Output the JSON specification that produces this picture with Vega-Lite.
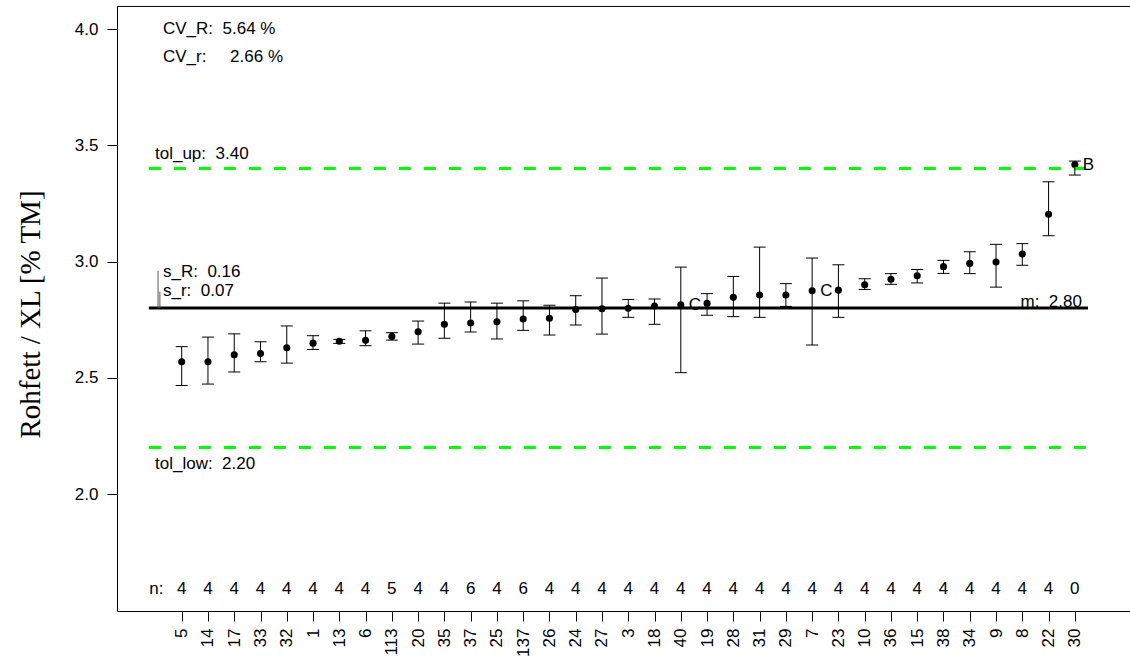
{
  "$schema": "https://vega.github.io/schema/vega-lite/v6.json",
  "width": 1013,
  "height": 605,
  "autosize": {"type": "none"},
  "padding": {"left": 117, "top": 6, "right": 0, "bottom": 46},
  "background": "white",
  "config": {"view": {"stroke": null}, "font": "Liberation Sans"},
  "resolve": {"axis": {"x": "independent", "y": "independent"}},
  "datasets": {
    "labs": [
      {"idx": 1, "lab": "5", "n": 4, "mean": 2.569, "lo": 2.467, "hi": 2.634, "flag": ""},
      {"idx": 2, "lab": "14", "n": 4, "mean": 2.569, "lo": 2.473, "hi": 2.675, "flag": ""},
      {"idx": 3, "lab": "17", "n": 4, "mean": 2.599, "lo": 2.525, "hi": 2.689, "flag": ""},
      {"idx": 4, "lab": "33", "n": 4, "mean": 2.604, "lo": 2.569, "hi": 2.655, "flag": ""},
      {"idx": 5, "lab": "32", "n": 4, "mean": 2.629, "lo": 2.563, "hi": 2.723, "flag": ""},
      {"idx": 6, "lab": "1", "n": 4, "mean": 2.649, "lo": 2.622, "hi": 2.681, "flag": ""},
      {"idx": 7, "lab": "13", "n": 4, "mean": 2.657, "lo": 2.648, "hi": 2.665, "flag": ""},
      {"idx": 8, "lab": "6", "n": 4, "mean": 2.661, "lo": 2.638, "hi": 2.702, "flag": ""},
      {"idx": 9, "lab": "113", "n": 5, "mean": 2.678, "lo": 2.662, "hi": 2.694, "flag": ""},
      {"idx": 10, "lab": "20", "n": 4, "mean": 2.698, "lo": 2.645, "hi": 2.744, "flag": ""},
      {"idx": 11, "lab": "35", "n": 4, "mean": 2.730, "lo": 2.670, "hi": 2.821, "flag": ""},
      {"idx": 12, "lab": "37", "n": 6, "mean": 2.736, "lo": 2.697, "hi": 2.826, "flag": ""},
      {"idx": 13, "lab": "25", "n": 4, "mean": 2.741, "lo": 2.667, "hi": 2.821, "flag": ""},
      {"idx": 14, "lab": "137", "n": 6, "mean": 2.753, "lo": 2.704, "hi": 2.831, "flag": ""},
      {"idx": 15, "lab": "26", "n": 4, "mean": 2.756, "lo": 2.684, "hi": 2.812, "flag": ""},
      {"idx": 16, "lab": "24", "n": 4, "mean": 2.794, "lo": 2.727, "hi": 2.853, "flag": ""},
      {"idx": 17, "lab": "27", "n": 4, "mean": 2.797, "lo": 2.688, "hi": 2.929, "flag": ""},
      {"idx": 18, "lab": "3", "n": 4, "mean": 2.799, "lo": 2.760, "hi": 2.837, "flag": ""},
      {"idx": 19, "lab": "18", "n": 4, "mean": 2.809, "lo": 2.730, "hi": 2.839, "flag": ""},
      {"idx": 20, "lab": "40", "n": 4, "mean": 2.814, "lo": 2.522, "hi": 2.976, "flag": "C"},
      {"idx": 21, "lab": "19", "n": 4, "mean": 2.820, "lo": 2.769, "hi": 2.862, "flag": ""},
      {"idx": 22, "lab": "28", "n": 4, "mean": 2.846, "lo": 2.763, "hi": 2.936, "flag": ""},
      {"idx": 23, "lab": "31", "n": 4, "mean": 2.856, "lo": 2.760, "hi": 3.062, "flag": ""},
      {"idx": 24, "lab": "29", "n": 4, "mean": 2.856, "lo": 2.807, "hi": 2.905, "flag": ""},
      {"idx": 25, "lab": "7", "n": 4, "mean": 2.874, "lo": 2.641, "hi": 3.015, "flag": "C"},
      {"idx": 26, "lab": "23", "n": 4, "mean": 2.877, "lo": 2.760, "hi": 2.986, "flag": ""},
      {"idx": 27, "lab": "10", "n": 4, "mean": 2.900, "lo": 2.880, "hi": 2.926, "flag": ""},
      {"idx": 28, "lab": "36", "n": 4, "mean": 2.924, "lo": 2.902, "hi": 2.948, "flag": ""},
      {"idx": 29, "lab": "15", "n": 4, "mean": 2.939, "lo": 2.908, "hi": 2.966, "flag": ""},
      {"idx": 30, "lab": "38", "n": 4, "mean": 2.978, "lo": 2.949, "hi": 3.005, "flag": ""},
      {"idx": 31, "lab": "34", "n": 4, "mean": 2.992, "lo": 2.948, "hi": 3.042, "flag": ""},
      {"idx": 32, "lab": "9", "n": 4, "mean": 2.998, "lo": 2.890, "hi": 3.074, "flag": ""},
      {"idx": 33, "lab": "8", "n": 4, "mean": 3.032, "lo": 2.984, "hi": 3.077, "flag": ""},
      {"idx": 34, "lab": "22", "n": 4, "mean": 3.203, "lo": 3.111, "hi": 3.343, "flag": ""},
      {"idx": 35, "lab": "30", "n": 0, "mean": 3.417, "lo": 3.372, "hi": 3.432, "flag": "B"}
    ],
    "tol": [
      {"name": "tol_up", "v": 3.40},
      {"name": "tol_low", "v": 2.20}
    ],
    "one": [{}]
  },
  "layer": [
    {
      "data": {"name": "labs"},
      "mark": {"type": "point", "filled": true, "color": "black", "size": 50, "opacity": 1},
      "encoding": {
        "x": {
          "field": "idx", "type": "quantitative",
          "scale": {"domain": [-1.463, 37.1], "nice": false, "zero": false},
          "axis": {
            "values": [1,2,3,4,5,6,7,8,9,10,11,12,13,14,15,16,17,18,19,20,21,22,23,24,25,26,27,28,29,30,31,32,33,34,35],
            "labelExpr": "['5','14','17','33','32','1','13','6','113','20','35','37','25','137','26','24','27','3','18','40','19','28','31','29','7','23','10','36','15','38','34','9','8','22','30'][datum.value-1]",
            "labelAngle": 270, "tickSize": 10, "labelPadding": 7,
            "labelFontSize": 17, "labelFont": "Liberation Sans", "labelColor": "black",
            "tickColor": "black", "domainColor": "black", "domainWidth": 1, "tickWidth": 1,
            "title": null, "grid": false, "labelOverlap": false, "labelBound": false, "labelFlush": false
          }
        },
        "y": {
          "field": "mean", "type": "quantitative",
          "scale": {"domain": [1.497, 4.099], "nice": false, "zero": false},
          "axis": {
            "values": [2, 2.5, 3, 3.5, 4], "format": ".1f",
            "tickSize": 10, "labelPadding": 9, "labelFontSize": 17, "labelFont": "Liberation Sans", "labelColor": "black",
            "tickColor": "black", "domainColor": "black", "domainWidth": 1, "tickWidth": 1, "grid": false,
            "title": "Rohfett / XL [% TM]", "titleFont": "Liberation Serif", "titleFontSize": 29, "titleFontWeight": "normal",
            "titleColor": "black", "titleX": -87, "titleY": 308, "titleAngle": 270, "titleAlign": "center", "titleBaseline": "middle"
          }
        }
      }
    },
    {
      "data": {"name": "one"},
      "mark": {"type": "rule", "color": "black", "strokeWidth": 1},
      "encoding": {"y": {"datum": 4.097, "type": "quantitative", "axis": null}}
    },
    {
      "data": {"name": "tol"},
      "mark": {"type": "rule", "color": "#00ff00", "strokeWidth": 3, "strokeDash": [12, 13]},
      "encoding": {
        "x": {"datum": -0.25, "type": "quantitative", "axis": null},
        "x2": {"datum": 35.5},
        "y": {"field": "v", "type": "quantitative", "axis": null}
      }
    },
    {
      "data": {"name": "one"},
      "mark": {"type": "rule", "color": "black", "strokeWidth": 3},
      "encoding": {
        "x": {"datum": -0.25, "type": "quantitative", "axis": null},
        "x2": {"datum": 35.5},
        "y": {"datum": 2.80, "type": "quantitative", "axis": null}
      }
    },
    {
      "data": {"name": "one"},
      "mark": {"type": "rule", "color": "#555555", "strokeWidth": 1},
      "encoding": {
        "x": {"datum": 0.1, "type": "quantitative", "axis": null},
        "y": {"datum": 2.80, "type": "quantitative", "axis": null},
        "y2": {"datum": 2.96}
      }
    },
    {
      "data": {"name": "one"},
      "mark": {"type": "rule", "color": "#555555", "strokeWidth": 1},
      "encoding": {
        "x": {"datum": 0.17, "type": "quantitative", "axis": null},
        "y": {"datum": 2.80, "type": "quantitative", "axis": null},
        "y2": {"datum": 2.87}
      }
    },
    {
      "data": {"name": "labs"},
      "mark": {"type": "rule", "color": "black", "strokeWidth": 1},
      "encoding": {
        "x": {"field": "idx", "type": "quantitative", "axis": null},
        "y": {"field": "lo", "type": "quantitative", "axis": null},
        "y2": {"field": "hi"}
      }
    },
    {
      "data": {"name": "labs"},
      "mark": {"type": "tick", "orient": "horizontal", "color": "black", "size": 12, "thickness": 1, "opacity": 1},
      "encoding": {
        "x": {"field": "idx", "type": "quantitative", "axis": null},
        "y": {"field": "lo", "type": "quantitative", "axis": null}
      }
    },
    {
      "data": {"name": "labs"},
      "mark": {"type": "tick", "orient": "horizontal", "color": "black", "size": 12, "thickness": 1, "opacity": 1},
      "encoding": {
        "x": {"field": "idx", "type": "quantitative", "axis": null},
        "y": {"field": "hi", "type": "quantitative", "axis": null}
      }
    },
    {
      "data": {"name": "labs"},
      "mark": {"type": "text", "align": "left", "baseline": "middle", "dx": 8, "fontSize": 17, "color": "black"},
      "encoding": {
        "x": {"field": "idx", "type": "quantitative", "axis": null},
        "y": {"field": "mean", "type": "quantitative", "axis": null},
        "text": {"field": "flag"}
      }
    },
    {
      "data": {"name": "labs"},
      "mark": {"type": "text", "align": "center", "baseline": "middle", "fontSize": 17, "color": "black"},
      "encoding": {
        "x": {"field": "idx", "type": "quantitative", "axis": null},
        "y": {"datum": 1.59, "type": "quantitative", "axis": null},
        "text": {"field": "n"}
      }
    },
    {
      "data": {"name": "one"},
      "mark": {"type": "text", "align": "left", "baseline": "middle", "fontSize": 17, "color": "black", "text": "n:"},
      "encoding": {"x": {"datum": -0.233, "type": "quantitative", "axis": null}, "y": {"datum": 1.59, "type": "quantitative", "axis": null}}
    },
    {
      "data": {"name": "one"},
      "mark": {"type": "text", "align": "left", "baseline": "middle", "fontSize": 17, "color": "black", "text": "CV_R:\u00a0\u00a05.64 %"},
      "encoding": {"x": {"datum": 0.288, "type": "quantitative", "axis": null}, "y": {"datum": 4.0, "type": "quantitative", "axis": null}}
    },
    {
      "data": {"name": "one"},
      "mark": {"type": "text", "align": "left", "baseline": "middle", "fontSize": 17, "color": "black", "text": "CV_r:\u00a0\u00a0\u00a0\u00a0\u00a02.66 %"},
      "encoding": {"x": {"datum": 0.288, "type": "quantitative", "axis": null}, "y": {"datum": 3.878, "type": "quantitative", "axis": null}}
    },
    {
      "data": {"name": "one"},
      "mark": {"type": "text", "align": "left", "baseline": "middle", "fontSize": 17, "color": "black", "text": "tol_up:\u00a0\u00a03.40"},
      "encoding": {"x": {"datum": -0.016, "type": "quantitative", "axis": null}, "y": {"datum": 3.462, "type": "quantitative", "axis": null}}
    },
    {
      "data": {"name": "one"},
      "mark": {"type": "text", "align": "left", "baseline": "middle", "fontSize": 17, "color": "black", "text": "tol_low:\u00a0\u00a02.20"},
      "encoding": {"x": {"datum": -0.016, "type": "quantitative", "axis": null}, "y": {"datum": 2.129, "type": "quantitative", "axis": null}}
    },
    {
      "data": {"name": "one"},
      "mark": {"type": "text", "align": "left", "baseline": "middle", "fontSize": 17, "color": "black", "text": "s_R:\u00a0\u00a00.16"},
      "encoding": {"x": {"datum": 0.288, "type": "quantitative", "axis": null}, "y": {"datum": 2.956, "type": "quantitative", "axis": null}}
    },
    {
      "data": {"name": "one"},
      "mark": {"type": "text", "align": "left", "baseline": "middle", "fontSize": 17, "color": "black", "text": "s_r:\u00a0\u00a00.07"},
      "encoding": {"x": {"datum": 0.288, "type": "quantitative", "axis": null}, "y": {"datum": 2.874, "type": "quantitative", "axis": null}}
    },
    {
      "data": {"name": "one"},
      "mark": {"type": "text", "align": "right", "baseline": "middle", "fontSize": 17, "color": "black", "text": "m:\u00a0\u00a02.80"},
      "encoding": {"x": {"datum": 35.27, "type": "quantitative", "axis": null}, "y": {"datum": 2.827, "type": "quantitative", "axis": null}}
    }
  ]
}
